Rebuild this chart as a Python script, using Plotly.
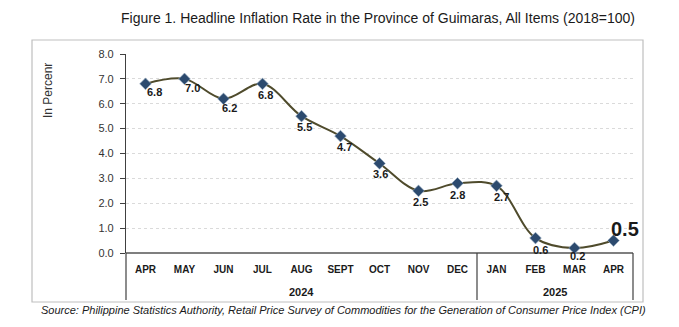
import plotly.graph_objects as go

months = ["APR", "MAY", "JUN", "JUL", "AUG", "SEPT", "OCT", "NOV", "DEC", "JAN", "FEB", "MAR", "APR"]
years = ["2024", "2025"]
year_spans = [(0, 8), (9, 12)]
inflation = [6.8, 7.0, 6.2, 6.8, 5.5, 4.7, 3.6, 2.5, 2.8, 2.7, 0.6, 0.2, 0.5]
ytick_vals = [0, 1, 2, 3, 4, 5, 6, 7, 8]

xpos = list(range(len(months)))
labels = [f"{v:.1f}" for v in inflation]
# label offsets (px) relative to each point
lab_dx = [9, 8, 6, 3, 3, 4, 1, 2, 0, 5, 5, 3, 11]
lab_dy = [8, 9, 9, 11, 11, 11, 11, 11, 12, 11, 12, 8, -12]
lab_size = [11] * 12 + [20]

W, H = 679, 327
L, R, T, B = 126, 633, 54, 253
def px_x(p):
    return (p - L) / (R - L)
def px_y(p):
    return (B - p) / (B - T)

FONT = "Arial, Liberation Sans, sans-serif"

fig = go.Figure()
fig.add_trace(go.Scatter(
    x=xpos, y=inflation, mode="lines+markers",
    line=dict(color="#4f4b2c", width=2, shape="spline", smoothing=1.0),
    marker=dict(symbol="diamond", size=9, color="#2c4a6e", line=dict(color="#9fb3c8", width=0.6)),
    cliponaxis=False, hoverinfo="skip", showlegend=False,
))

shapes = []
shapes.append(dict(type="rect", xref="paper", yref="paper",
                   x0=px_x(32), x1=px_x(643), y0=px_y(302), y1=px_y(40),
                   line=dict(color="#bfbfbf", width=1.2), layer="below"))
for xp in [L, L + (R - L) * 9 / 13, R]:
    shapes.append(dict(type="line", xref="paper", yref="paper",
                       x0=px_x(xp), x1=px_x(xp), y0=0, y1=px_y(300),
                       line=dict(color="#404040", width=1.2)))
shapes.append(dict(type="line", xref="paper", yref="paper", x0=0, x1=1, y0=0, y1=0,
                   line=dict(color="#7f7f7f", width=2), layer="below"))

annotations = []
for i, (xv, yv) in enumerate(zip(xpos, inflation)):
    annotations.append(dict(x=xv, y=yv, xref="x", yref="y", text=f"<b>{labels[i]}</b>",
                            showarrow=False, xshift=lab_dx[i], yshift=-lab_dy[i],
                            font=dict(family=FONT, size=lab_size[i], color="#1a1a1a"),
                            xanchor="center", yanchor="middle"))
for (a, b), yr in zip(year_spans, years):
    annotations.append(dict(x=(a + b) / 2, y=px_y(292), xref="x", yref="paper",
                            text=f"<b>{yr}</b>", showarrow=False,
                            font=dict(family=FONT, size=11, color="#1a1a1a"),
                            xanchor="center", yanchor="middle"))
annotations.append(dict(x=px_x(48), y=px_y(91), xref="paper", yref="paper", text="In Percenr",
                        textangle=-90, showarrow=False,
                        font=dict(family=FONT, size=12, color="#333333"),
                        xanchor="center", yanchor="middle"))
annotations.append(dict(x=px_x(343), y=px_y(310), xref="paper", yref="paper",
                        text="<i>Source: Philippine Statistics Authority, Retail Price Survey of Commodities for the Generation of Consumer Price Index (CPI)</i>",
                        showarrow=False,
                        font=dict(family=FONT, size=11, color="#1a1a1a"),
                        xanchor="center", yanchor="middle"))
annotations.append(dict(x=px_x(378), y=px_y(18), xref="paper", yref="paper",
                        text="Figure 1. Headline Inflation Rate in the Province of Guimaras, All Items (2018=100)",
                        showarrow=False,
                        font=dict(family=FONT, size=14, color="#1a1a1a"),
                        xanchor="center", yanchor="middle"))

fig.update_layout(
    width=W, height=H, margin=dict(l=L, r=W - R, t=T, b=H - B),
    paper_bgcolor="white", plot_bgcolor="white",
    shapes=shapes, annotations=annotations,
    xaxis=dict(range=[-0.5, 12.5], tickvals=xpos, ticktext=[f"<b>{m}</b>" for m in months],
               showgrid=False, zeroline=False, showline=False, ticks="",
               tickfont=dict(family=FONT, size=10, color="#1a1a1a"),
               ticklabelstandoff=9, fixedrange=True),
    yaxis=dict(range=[0, 8], tickvals=ytick_vals, tickformat=".1f",
               showgrid=True, gridcolor="#dadada", griddash="dot", gridwidth=1,
               zeroline=False, showline=True, linecolor="#404040", linewidth=1.2,
               ticks="outside", ticklen=5, tickcolor="#404040",
               tickfont=dict(family=FONT, size=11, color="#333333"),
               ticklabelstandoff=4, fixedrange=True),
)

fig.write_html("out.html")
